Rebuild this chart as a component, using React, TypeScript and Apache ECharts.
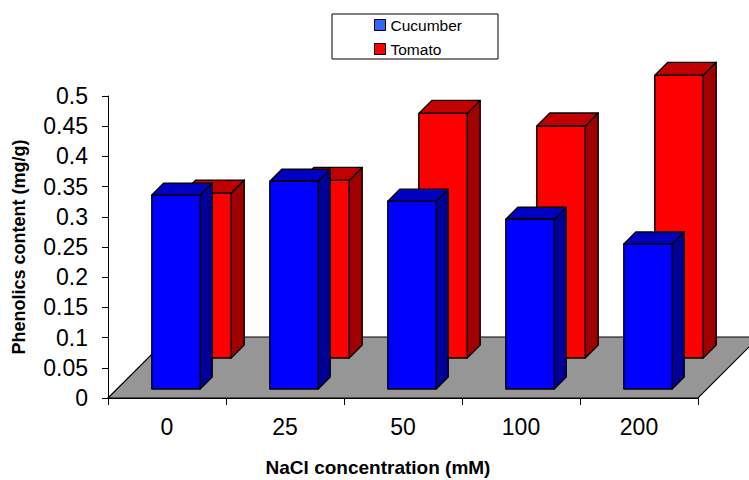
import { useEffect, useRef } from 'react';
import * as echarts from 'echarts';

// NaCl concentration levels (mM)
const categories = ['0', '25', '50', '100', '200'];
// Phenolics content (mg/g)
const cucumber = [0.321, 0.344, 0.311, 0.281, 0.24];
const tomato = [0.273, 0.294, 0.405, 0.384, 0.468];

const FONT = '"Liberation Sans", Arial, Helvetica, sans-serif';

// Oblique (45°) depth of the chart floor, in pixels
const FLOOR_DEPTH = 61;

type BoxColors = { front: string; top: string; side: string };

// Draws one 3D column: front face, top face and right side face.
function makeBoxRenderer(depthFront: number, depthBack: number, colors: BoxColors) {
  return (params: any, api: any) => {
    const idx = api.value(0);
    const val = api.value(1);
    const base = api.coord([idx, 0]);
    const top = api.coord([idx, val]);
    const band = api.size([1, 0])[0];
    const w = band * 0.41;
    const L = base[0] - w / 2;
    const R = base[0] + w / 2;
    const B = base[1];
    const T = top[1];
    const f = depthFront;
    const b = depthBack;
    const p = (x: number, y: number, d: number) => [x + d, y - d];
    const edge = { stroke: '#000', lineWidth: 1.4, lineJoin: 'round' };
    return {
      type: 'group',
      children: [
        {
          type: 'polygon',
          shape: { points: [p(R, B, f), p(R, T, f), p(R, T, b), p(R, B, b)] },
          style: { fill: colors.side, ...edge },
        },
        {
          type: 'polygon',
          shape: { points: [p(L, T, f), p(R, T, f), p(R, T, b), p(L, T, b)] },
          style: { fill: colors.top, ...edge },
        },
        {
          type: 'rect',
          shape: { x: L + f, y: T - f, width: w, height: B - T },
          style: { fill: colors.front, ...edge },
        },
      ],
    };
  };
}

// Grey floor of the plot area, extending back along the depth axis.
function renderFloor(params: any) {
  const cs = params.coordSys;
  const x0 = cs.x;
  const x1 = cs.x + cs.width;
  const y0 = cs.y + cs.height;
  const d = FLOOR_DEPTH;
  return {
    type: 'polygon',
    shape: { points: [[x0, y0], [x1, y0], [x1 + d, y0 - d], [x0 + d, y0 - d]] },
    style: { fill: '#969696', stroke: '#000', lineWidth: 1.2 },
  };
}

export default function App() {
  const ref = useRef<HTMLDivElement>(null);

  useEffect(() => {
    if (!ref.current) return;
    const chart = echarts.init(ref.current, null, { renderer: 'svg' });
    const labelStyle = { color: '#000', fontFamily: FONT, fontSize: 23 };

    chart.setOption({
      animation: false,
      backgroundColor: '#fff',
      grid: { left: 108, top: 96, width: 590, height: 302, containLabel: false },
      legend: {
        orient: 'vertical',
        left: 332,
        top: 14,
        padding: [2, 36, 1, 42],
        itemGap: 6,
        itemWidth: 11,
        itemHeight: 11,
        icon: 'rect',
        borderColor: '#000',
        borderWidth: 1,
        borderRadius: 0,
        textStyle: { color: '#000', fontFamily: FONT, fontSize: 15.5, lineHeight: 18 },
        data: [
          { name: 'Cucumber', itemStyle: { color: '#3366FF', borderColor: '#000', borderWidth: 1 } },
          { name: 'Tomato', itemStyle: { color: '#FF0000', borderColor: '#000', borderWidth: 1 } },
        ],
      },
      xAxis: {
        type: 'category',
        data: categories,
        boundaryGap: true,
        axisLine: { show: true, lineStyle: { color: '#000', width: 1 } },
        axisTick: { show: true, length: 7, alignWithLabel: false, lineStyle: { color: '#000' } },
        axisLabel: { ...labelStyle, margin: 17 },
        splitLine: { show: false },
      },
      yAxis: {
        type: 'value',
        min: 0,
        max: 0.5,
        interval: 0.05,
        name: 'Phenolics content (mg/g)',
        nameLocation: 'middle',
        nameGap: 80,
        nameTextStyle: { color: '#000', fontFamily: FONT, fontSize: 18, fontWeight: 'bold' },
        axisLine: { show: true, lineStyle: { color: '#000', width: 1 } },
        axisTick: { show: true, length: 6, lineStyle: { color: '#000' } },
        axisLabel: {
          ...labelStyle,
          margin: 20,
          formatter: (v: number) => String(Number(v.toFixed(2))),
        },
        splitLine: { show: false },
      },
      graphic: [
        {
          type: 'text',
          x: 378,
          y: 467,
          style: {
            text: 'NaCl concentration (mM)',
            fill: '#000',
            font: `bold 19px ${FONT}`,
            textAlign: 'center',
            textVerticalAlign: 'middle',
          },
        },
      ],
      series: [
        {
          name: 'Floor',
          type: 'custom',
          z: 1,
          silent: true,
          data: [[0, 0]],
          renderItem: renderFloor,
        },
        {
          name: 'Cucumber',
          type: 'custom',
          z: 4,
          itemStyle: { color: '#0000FF' },
          encode: { x: 0, y: 1 },
          data: categories.map((c, i) => [c, cucumber[i]]),
          renderItem: makeBoxRenderer(9, 21, { front: '#0000FF', top: '#0000C0', side: '#000099' }),
        },
        {
          name: 'Tomato',
          type: 'custom',
          z: 3,
          itemStyle: { color: '#FF0000' },
          encode: { x: 0, y: 1 },
          data: categories.map((c, i) => [c, tomato[i]]),
          renderItem: makeBoxRenderer(40, 53, { front: '#FF0000', top: '#C00000', side: '#A00000' }),
        },
      ],
    });

    return () => chart.dispose();
  }, []);

  return (
    <div
      ref={ref}
      style={{ position: 'absolute', left: 0, top: 0, width: 749, height: 480 }}
    />
  );
}
